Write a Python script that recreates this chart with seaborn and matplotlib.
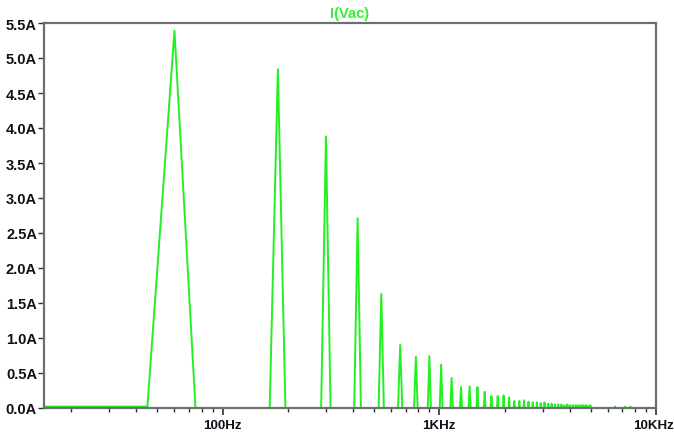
import numpy as np
import pandas as pd
import seaborn as sns
import matplotlib
matplotlib.use('Agg')
import matplotlib.pyplot as plt
import matplotlib.transforms as mtransforms
from matplotlib.ticker import FixedLocator, NullFormatter

# FFT of I(Vac): peaks (Hz, A)
peak_freq = [60, 180, 300, 420, 540, 660, 780, 900, 1020, 1140, 1260, 1380, 1500,
             1620, 1740, 1860, 1980, 2100, 2220, 2340, 2460, 2580, 2700, 2820,
             2940, 3060, 3180, 3300, 3420, 3540, 3660, 3780, 3900, 4020, 4140,
             4260, 4380, 4500, 4620, 4740, 4860, 4980, 6480, 7200, 7620]
peak_amp = [5.39, 4.84, 3.88, 2.71, 1.63, 0.90, 0.73, 0.74, 0.62, 0.43, 0.30, 0.31, 0.30,
            0.23, 0.17, 0.17, 0.18, 0.15, 0.10, 0.10, 0.11, 0.09, 0.08, 0.08,
            0.07, 0.08, 0.06, 0.06, 0.05, 0.05, 0.05, 0.04, 0.05, 0.04, 0.04,
            0.04, 0.04, 0.04, 0.04, 0.04, 0.03, 0.04, 0.02, 0.02, 0.02]
low_freq = [15, 30, 45]
low_amp = [0.02, 0.02, 0.02]
bin_width = 15  # FFT bin spacing

yticks = [0.0, 0.5, 1.0, 1.5, 2.0, 2.5, 3.0, 3.5, 4.0, 4.5, 5.0, 5.5]
xticks = [100, 1000, 10000]
xlabels = ['100Hz', '1KHz', '10KHz']

# spectrum on the bin grid, zero where nothing was read
freq = np.arange(15, 10000 + bin_width, bin_width)
amp = np.zeros(len(freq))
s = pd.Series(amp, index=freq)
for f, a in zip(low_freq + peak_freq, low_amp + peak_amp):
    s.loc[f] = a
df = pd.DataFrame({'freq': s.index, 'amp': s.values})

sns.set_style('white')
plt.rcParams['font.family'] = ['Liberation Sans Narrow', 'Liberation Sans', 'DejaVu Sans']

fig = plt.figure(figsize=(6.74, 4.39), dpi=100)
ax = fig.add_axes([44 / 674, 1 - 409 / 439, (656 - 44) / 674, (409 - 24) / 439])
sns.lineplot(data=df, x='freq', y='amp', ax=ax, color='#22f022', lw=1.4)
ax.set_xscale('log')
ax.set_xlim(15, 10000)
ax.set_ylim(0, 5.5)

ax.xaxis.set_major_locator(FixedLocator(xticks))
ax.set_xticklabels(xlabels, fontsize=9.6, fontweight='bold', color='#101018')
minor = [m * d for d in (10, 100, 1000) for m in range(2, 10)]
ax.xaxis.set_minor_locator(FixedLocator([m for m in minor if m > 15]))
ax.xaxis.set_minor_formatter(NullFormatter())
ax.set_yticks(yticks)
ax.set_yticklabels([f'{v:.1f}A' for v in yticks], fontsize=10.5, fontweight='bold', color='#101018')

ax.tick_params(axis='x', which='major', direction='out', length=5, width=1.2, color='#303030', pad=3, bottom=True)
ax.tick_params(axis='x', which='minor', direction='out', length=2.8, width=1.0, color='#303030', bottom=True)
ax.tick_params(axis='y', direction='out', length=4, width=1.0, color='#303030', pad=1, left=True)

# nudge the last label in so it stays inside the canvas
last = ax.get_xticklabels()[-1]
last.set_transform(last.get_transform() + mtransforms.ScaledTranslation(-3 / 100, 0, fig.dpi_scale_trans))

for sp in ax.spines.values():
    sp.set_color('#6e6e6e')
    sp.set_linewidth(1.6)

ax.set_xlabel('')
ax.set_ylabel('')
ax.set_title('I(Vac)', color='#33ee33', fontsize=10.5, fontweight='bold', pad=4)

fig.savefig('out.png', dpi=100)
